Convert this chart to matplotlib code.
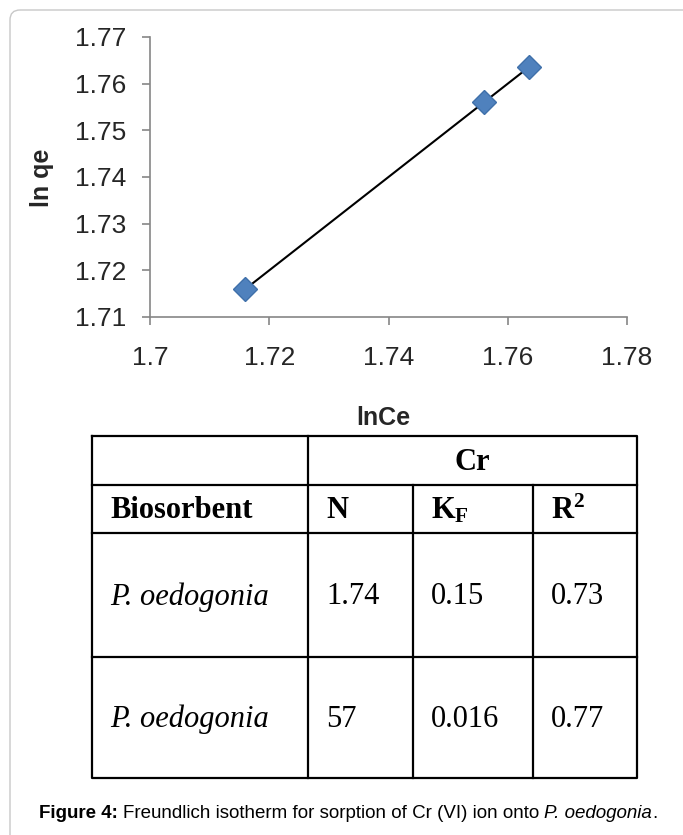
import numpy as np
import matplotlib
matplotlib.use("Agg")
import matplotlib.pyplot as plt
from matplotlib.patches import FancyBboxPatch

plt.rcParams['mathtext.fontset'] = 'custom'
plt.rcParams['mathtext.rm'] = 'Liberation Serif'
plt.rcParams['mathtext.bf'] = 'Liberation Serif:bold'
plt.rcParams['mathtext.it'] = 'Liberation Serif:italic'

# Data
ln_ce = [1.716, 1.756, 1.7635]
ln_qe = [1.716, 1.756, 1.7635]
x_ticks = [1.70, 1.72, 1.74, 1.76, 1.78]
y_ticks = [1.71, 1.72, 1.73, 1.74, 1.75, 1.76, 1.77]

# Table contents
table_group = "Cr"
table_header = ["Biosorbent", "N", r"$\mathbf{K}_{\mathbf{F}}$", r"$\mathbf{R}^{\mathbf{2}}$"]
biosorbents = ["P. oedogonia", "P. oedogonia"]
n_vals = ["1.74", "57"]
kf_vals = ["0.15", "0.016"]
r2_vals = ["0.73", "0.77"]

W, H = 683, 835
fig = plt.figure(figsize=(W / 100, H / 100), dpi=100)

# background axes in pixel coords
bg = fig.add_axes([0, 0, 1, 1])
bg.set_xlim(0, W)
bg.set_ylim(H, 0)
bg.axis('off')
frame = FancyBboxPatch((10, 10), 700, 840, boxstyle="round,pad=0,rounding_size=10",
                       fc='none', ec='#c8c8c8', lw=1.0)
bg.add_patch(frame)

# scatter plot
ax = fig.add_axes([150 / W, 1 - 317 / H, 477 / W, 280 / H])
slope, icpt = np.polyfit(ln_ce, ln_qe, 1)
xs = np.array([min(ln_ce), max(ln_ce)])
ax.plot(xs, slope * xs + icpt, color='black', lw=1.5, zorder=2)
ax.plot(ln_ce, ln_qe, 'D', ms=12, mfc='#4F81BD', mec='#3F70AA', mew=1, zorder=3)
ax.set_xlim(1.70, 1.78)
ax.set_ylim(1.71, 1.77)
ax.set_xticks(x_ticks)
ax.set_yticks(y_ticks)
ax.set_xticklabels([f"{t:g}" for t in x_ticks])
ax.set_yticklabels([f"{t:g}" for t in y_ticks])
for s in ['top', 'right']:
    ax.spines[s].set_visible(False)
for s in ['left', 'bottom']:
    ax.spines[s].set_color('#868686')
    ax.spines[s].set_linewidth(1.2)
ax.tick_params(axis='both', colors='#868686', length=6, width=1.2,
               labelcolor='#262626', labelsize=19)
ax.tick_params(axis='y', pad=11)
ax.tick_params(axis='x', pad=15)
for lab in ax.get_xticklabels() + ax.get_yticklabels():
    lab.set_fontfamily('Liberation Sans')
ax.patch.set_alpha(0)

bg.text(42, 178, "ln qe", rotation=90, ha='center', va='center',
        fontsize=18, fontweight='bold', family='Liberation Sans', color='#262626')
bg.text(383, 418, "lnCe", ha='center', va='center',
        fontsize=18, fontweight='bold', family='Liberation Sans', color='#262626')

# table
col_x = [92, 308, 413, 533, 637]
row_y = [436, 485, 533, 657, 778]
lw = 1.6
bg.plot([col_x[0], col_x[-1], col_x[-1], col_x[0], col_x[0]],
        [row_y[0], row_y[0], row_y[-1], row_y[-1], row_y[0]], color='black', lw=lw)
for y in row_y[1:-1]:
    bg.plot([col_x[0], col_x[-1]], [y, y], color='black', lw=lw)
bg.plot([col_x[1], col_x[1]], [row_y[0], row_y[-1]], color='black', lw=lw)
for x in col_x[2:-1]:
    bg.plot([x, x], [row_y[1], row_y[-1]], color='black', lw=lw)

tfont = dict(family='Liberation Serif', fontsize=22, color='black', va='center')
bg.text((col_x[1] + col_x[-1]) / 2, (row_y[0] + row_y[1]) / 2 + 2, table_group,
        ha='center', fontweight='bold', **tfont)
pad = 18
hy = (row_y[1] + row_y[2]) / 2 + 2
for i, h in enumerate(table_header):
    bg.text(col_x[i] + pad, hy, h, ha='left', fontweight='bold', **tfont)
for r in range(2):
    cy = (row_y[2 + r] + row_y[3 + r]) / 2 + 2
    bg.text(col_x[0] + pad, cy, biosorbents[r], ha='left', style='italic', **tfont)
    bg.text(col_x[1] + pad, cy, n_vals[r], ha='left', **tfont)
    bg.text(col_x[2] + pad, cy, kf_vals[r], ha='left', **tfont)
    bg.text(col_x[3] + pad, cy, r2_vals[r], ha='left', **tfont)

# caption with mixed styles
pieces = [("Figure 4:", dict(fontweight='bold'), 5),
          ("Freundlich isotherm for sorption of Cr (VI) ion onto", {}, 5),
          ("P. oedogonia", dict(style='italic'), 0),
          (".", {}, 0)]
renderer = fig.canvas.get_renderer()
x = 39
for txt, kw, gap in pieces:
    t = fig.text(x / W, 1 - 813 / H, txt, ha='left', va='center', fontsize=13.5,
                 family='Liberation Sans', color='black', **kw)
    bb = t.get_window_extent(renderer)
    x = bb.x1 + gap

fig.savefig("out.png", dpi=100)
